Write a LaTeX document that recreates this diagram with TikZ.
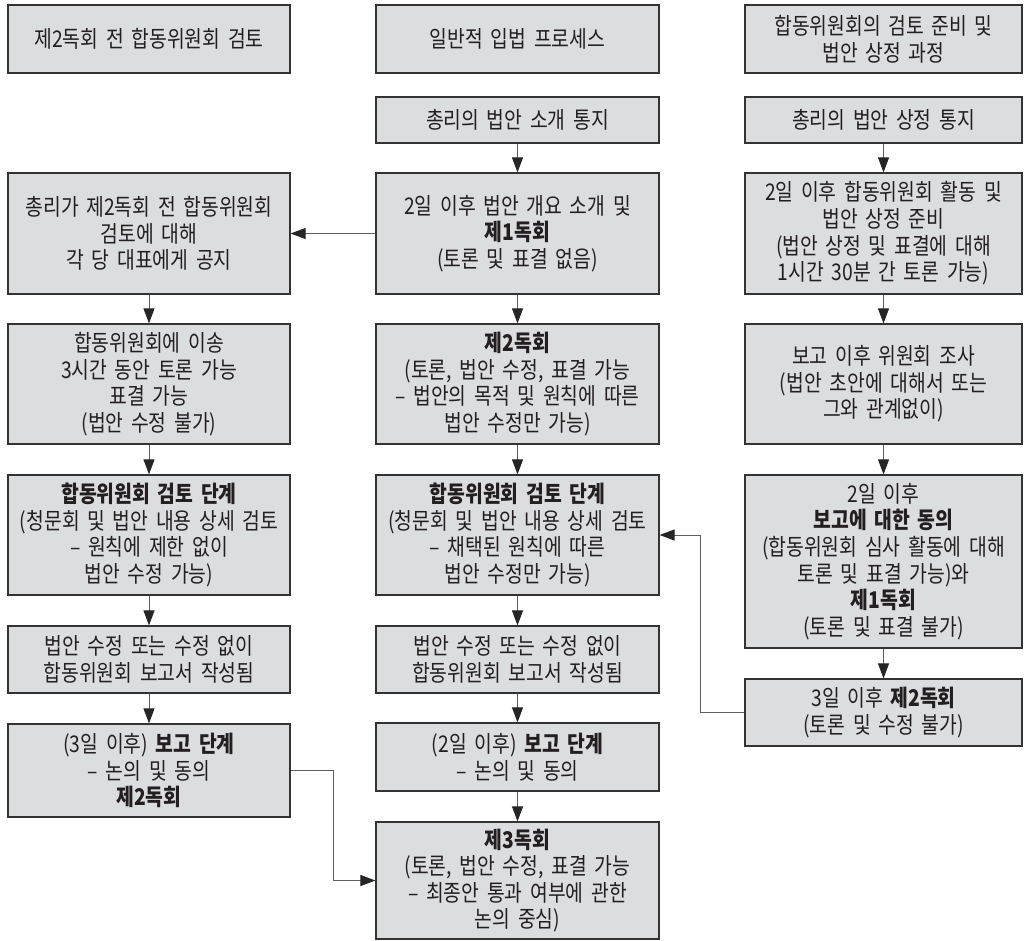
\documentclass[tikz,border=0pt]{standalone}
\usepackage{fontspec}
\setmainfont{Noto Sans CJK KR}[FakeStretch=0.84, WordSpace=1.3]
\usepackage{xcolor}
\usetikzlibrary{arrows.meta}
\definecolor{cinzaCaixa}{RGB}{220,221,223}
\definecolor{cinzaLinha}{RGB}{95,95,95}
\definecolor{texto}{RGB}{35,31,32}

\begin{document}
\begin{tikzpicture}[x=1pt,y=-1pt,
  caixa/.style={draw=black!80, line width=1.2pt, fill=cinzaCaixa, text=texto,
    align=center, inner sep=0pt, font=\fontsize{23}{26.6}\selectfont},
  colA/.style={caixa, text width=282pt, minimum width=282pt},
  colB/.style={caixa, text width=283pt, minimum width=283pt},
  colC/.style={caixa, text width=277pt, minimum width=277pt},
  seta/.style={-{Triangle[length=15pt,width=11pt,color=black!85]}, cinzaLinha, line width=1pt}
]

% Fundo e limites
\fill[white] (0,0) rectangle (1024,940);
\useasboundingbox (0,0) rectangle (1024,940);

% Cabeçalhos
\node[colA, minimum height=68pt] (LH) at (149,39) {제2독회 전 합동위원회 검토};
\node[colB, minimum height=68pt] (MH) at (517.5,39) {일반적 입법 프로세스};
\node[colC, minimum height=68pt] (RH) at (883.5,39) {합동위원회의 검토 준비 및\\법안 상정 과정};

% Coluna da esquerda
\node[colA, minimum height=121pt] (L3) at (149,233.5) {총리가 제2독회 전 합동위원회\\검토에 대해\\각 당 대표에게 공지};
\node[colA, minimum height=120pt] (L4) at (149,384) {합동위원회에 이송\\3시간 동안 토론 가능\\표결 가능\\(법안 수정 불가)};
\node[colA, minimum height=120pt] (L5) at (149,535) {\textbf{합동위원회 검토 단계}\\(청문회 및 법안 내용 상세 검토\\– 원칙에 제한 없이\\법안 수정 가능)};
\node[colA, minimum height=67pt] (L6) at (149,659.5) {법안 수정 또는 수정 없이\\합동위원회 보고서 작성됨};
\node[colA, minimum height=93pt] (L7) at (149,770.5) {(3일 이후) \textbf{보고 단계}\\– 논의 및 동의\\\textbf{제2독회}};

% Coluna do meio
\node[colB, minimum height=46pt] (M2) at (517.5,120) {총리의 법안 소개 통지};
\node[colB, minimum height=121pt] (M3) at (517.5,233.5) {2일 이후 법안 개요 소개 및\\\textbf{제1독회}\\(토론 및 표결 없음)};
\node[colB, minimum height=120pt] (M4) at (517.5,384) {\textbf{제2독회}\\(토론, 법안 수정, 표결 가능\\– 법안의 목적 및 원칙에 따른\\법안 수정만 가능)};
\node[colB, minimum height=120pt] (M5) at (517.5,535) {\textbf{합동위원회 검토 단계}\\(청문회 및 법안 내용 상세 검토\\– 채택된 원칙에 따른\\법안 수정만 가능)};
\node[colB, minimum height=67pt] (M6) at (517.5,659.5) {법안 수정 또는 수정 없이\\합동위원회 보고서 작성됨};
\node[colB, minimum height=68pt] (M7) at (517.5,757) {(2일 이후) \textbf{보고 단계}\\– 논의 및 동의};
\node[colB, minimum height=117pt] (M8) at (517.5,880.5) {\textbf{제3독회}\\(토론, 법안 수정, 표결 가능\\– 최종안 통과 여부에 관한\\논의 중심)};

% Coluna da direita
\node[colC, minimum height=46pt] (R2) at (883.5,120) {총리의 법안 상정 통지};
\node[colC, minimum height=121pt] (R3) at (883.5,233.5) {2일 이후 합동위원회 활동 및\\법안 상정 준비\\(법안 상정 및 표결에 대해\\1시간 30분 간 토론 가능)};
\node[colC, minimum height=120pt] (R4) at (883.5,384) {보고 이후 위원회 조사\\(법안 초안에 대해서 또는\\그와 관계없이)};
\node[colC, minimum height=173pt] (R5) at (883.5,561.5) {2일 이후\\\textbf{보고에 대한 동의}\\(합동위원회 심사 활동에 대해\\토론 및 표결 가능)와\\\textbf{제1독회}\\(토론 및 표결 불가)};
\node[colC, minimum height=67pt] (R6) at (883.5,712.5) {3일 이후 \textbf{제2독회}\\(토론 및 수정 불가)};

% Setas verticais
\foreach \a/\b in {L3/L4, L4/L5, L5/L6, L6/L7,
                   M2/M3, M3/M4, M4/M5, M5/M6, M6/M7, M7/M8,
                   R2/R3, R3/R4, R4/R5, R5/R6}
  \draw[seta] (\a.south) -- (\b.north);

% Setas entre colunas
\draw[seta] (M3.west) -- (L3.east);
\draw[seta] (R6.west) -- ++(-44,0) |- (M5.east);
\draw[seta] (L7.east) -- ++(43,0) |- (M8.west);

\end{tikzpicture}
\end{document}
